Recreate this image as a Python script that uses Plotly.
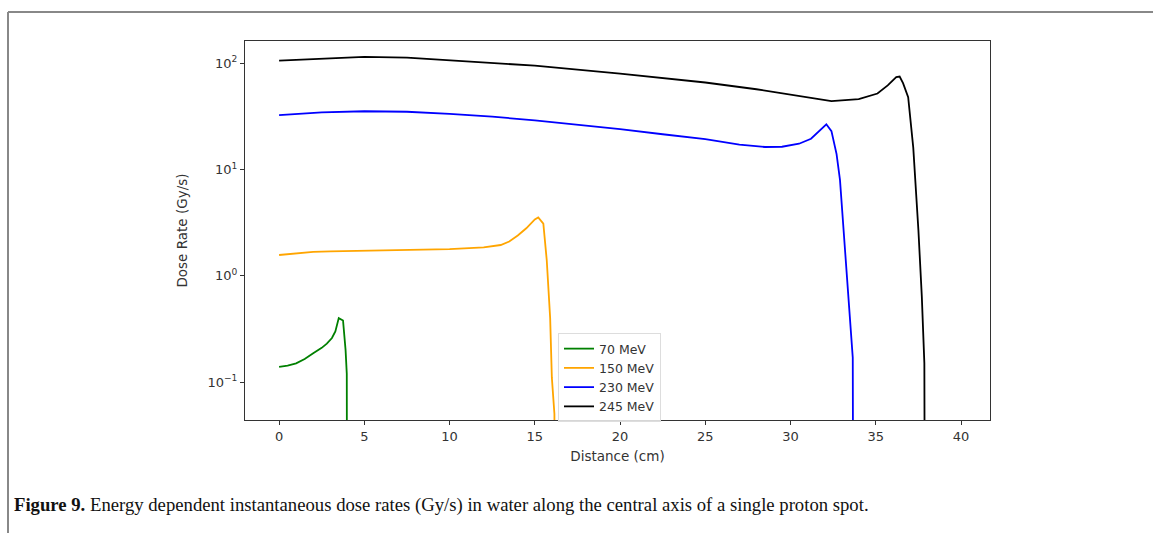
import plotly.graph_objects as go

# ---- data ----
x70 = [0, 0.5, 1.0, 1.5, 2.0, 2.5, 2.8, 3.1, 3.3, 3.5, 3.75, 3.9, 3.97, 4.0]
y70 = [0.139, 0.143, 0.15, 0.165, 0.187, 0.21, 0.23, 0.26, 0.30, 0.40, 0.38, 0.20, 0.12, 1e-4]

x150 = [0, 1, 2, 3, 5, 7.5, 10, 12, 13, 13.5, 14, 14.5, 15, 15.2, 15.5, 15.7, 15.9, 16.0, 16.15, 16.2]
y150 = [1.57, 1.62, 1.68, 1.70, 1.72, 1.75, 1.78, 1.85, 1.95, 2.1, 2.4, 2.8, 3.4, 3.55, 3.1, 1.4, 0.4, 0.11, 0.05, 1e-4]

x230 = [0, 2.5, 5, 7.5, 10, 12.5, 15, 17.5, 20, 22.5, 25, 27, 28.5, 29.5, 30.5, 31.2, 31.7, 32.1,
        32.4, 32.7, 32.9, 33.1, 33.3, 33.5, 33.65, 33.7]
y230 = [32.5, 34.5, 35.4, 35, 33.5, 31.5, 29, 26.5, 24, 21.5, 19.3, 17.2, 16.3, 16.4, 17.5, 19.5, 23, 26.7,
        23, 14, 8, 3, 1, 0.35, 0.17, 1e-4]

x245 = [0, 2.5, 5, 7.5, 10, 15, 20, 25, 28, 30, 32.4, 34, 35.1, 35.7, 36.2, 36.4, 36.6, 36.9, 37.2,
        37.5, 37.7, 37.85, 37.9]
y245 = [106, 110, 115, 113, 107, 95, 80, 66, 57, 51, 44, 46, 52, 62, 74, 75, 65, 48, 16,
        2.7, 0.64, 0.15, 1e-4]

series_names = ["70 MeV", "150 MeV", "230 MeV", "245 MeV"]
series_colors = ["green", "orange", "blue", "black"]

x_ticks = [0, 5, 10, 15, 20, 25, 30, 35, 40]
y_ticks = [0.1, 1, 10, 100]
y_ticktext = ["10<sup>−1</sup>", "10<sup>0</sup>", "10<sup>1</sup>", "10<sup>2</sup>"]
y_minor = [m * d for d in [0.01, 0.1, 1, 10, 100] for m in range(2, 10)]

caption_bold = "Figure 9."
caption_text = " Energy dependent instantaneous dose rates (Gy/s) in water along the central axis of a single proton spot."

# ---- figure ----
W, H = 1153, 533
L, R, T, B = 245, 163, 41, 113
pw, ph = W - L - R, H - T - B
y_range = [-1.357, 2.21]

fig = go.Figure()
for xs, ys, name, col in zip([x70, x150, x230, x245], [y70, y150, y230, y245], series_names, series_colors):
    fig.add_trace(go.Scatter(x=xs, y=ys, mode="lines", name=name,
                             line=dict(color=col, width=1.8)))

font_main = "DejaVu Sans"
fig.update_layout(
    width=W, height=H,
    margin=dict(l=L, r=R, t=T, b=B),
    paper_bgcolor="white", plot_bgcolor="white",
    font=dict(family=font_main, size=13, color="#333"),
    showlegend=True,
    legend=dict(x=(558 - L) / pw, y=(H - B - 333) / ph, xanchor="left", yanchor="top",
                bgcolor="rgba(255,255,255,0.8)", bordercolor="#ddd", borderwidth=1,
                font=dict(size=12.5, color="#333"), tracegroupgap=0, itemwidth=30),
    xaxis=dict(range=[-2.0, 41.7], tickvals=x_ticks, ticks="outside", ticklen=4, tickwidth=1,
               tickcolor="#333", showline=True, linecolor="#333", linewidth=1, mirror=True,
               showgrid=False, zeroline=False, tickfont=dict(size=13),
               title=dict(text="Distance (cm)", font=dict(size=13.5, color="#333"), standoff=8)),
    yaxis=dict(type="log", range=y_range, tickvals=y_ticks, ticktext=y_ticktext,
               ticks="outside", ticklen=4, tickwidth=1, tickcolor="#333",
               showline=True, linecolor="#333", linewidth=1, mirror=True,
               showgrid=False, zeroline=False, tickfont=dict(size=13),
               title=dict(text="Dose Rate (Gy/s)", font=dict(size=13.5, color="#333"), standoff=16)),
    # overlay axis carrying only the minor log ticks
    yaxis2=dict(type="log", range=y_range, overlaying="y", side="left", anchor="x",
                tickmode="array", tickvals=y_minor, ticks="outside", ticklen=2.5, tickwidth=1,
                tickcolor="#333", showticklabels=False, showline=False, showgrid=False,
                zeroline=False, fixedrange=True),
)

# page frame (gray top and left rules)
def px_x(px):
    return (px - L) / pw

def px_y(py):
    return (H - B - py) / ph

fig.add_shape(type="line", xref="paper", yref="paper", x0=px_x(8), x1=px_x(W + 5), y0=px_y(12), y1=px_y(12),
              line=dict(color="#888", width=2))
fig.add_shape(type="line", xref="paper", yref="paper", x0=px_x(8), x1=px_x(8), y0=px_y(12), y1=px_y(H + 5),
              line=dict(color="#888", width=2))

fig.add_annotation(xref="paper", yref="paper", x=px_x(12), y=px_y(505), xanchor="left", yanchor="middle",
                   showarrow=False,
                   text="<b>" + caption_bold + "</b>" + caption_text,
                   font=dict(family="Liberation Serif", size=18.7, color="#111"))

fig.write_html("out.html")
